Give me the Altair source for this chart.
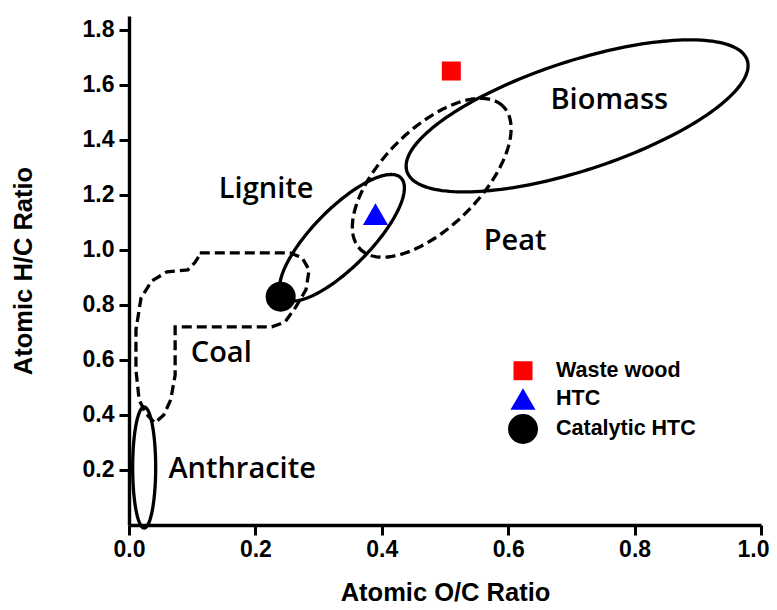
import altair as alt
import numpy as np
import pandas as pd

# --- Sample points (Atomic O/C, Atomic H/C) ---
series = ["Waste wood", "HTC", "Catalytic HTC"]
oc_ratio = [0.51, 0.39, 0.24]
hc_ratio = [1.65, 1.13, 0.83]
marker_shapes = ["square", "triangle-up", "circle"]
marker_colors = ["#ff0000", "#0000ff", "#000000"]
marker_sizes = [361, 900, 400]

# --- Elliptical regions: centre and two semi-axis vectors (data units) ---
region_names = ["Anthracite", "Lignite", "Peat", "Biomass"]
region_cx = [0.024, 0.337, 0.479, 0.709]
region_cy = [0.209, 1.044, 1.262, 1.487]
region_ax = [0.0, 0.0932, 0.1130, 0.2692]
region_ay = [0.220, 0.2178, 0.2597, 0.2022]
region_bx = [0.0182, -0.0327, -0.0548, -0.0268]
region_by = [0.0, 0.0739, 0.1260, 0.1884]
region_dashed = [False, False, True, False]

# --- Coal region outline (dashed) ---
coal_x = [0.112, 0.255, 0.274, 0.285, 0.280, 0.264, 0.247, 0.226, 0.073, 0.073,
          0.066, 0.055, 0.041, 0.027, 0.016, 0.011, 0.011, 0.019, 0.036, 0.060,
          0.093, 0.104, 0.112]
coal_y = [0.989, 0.989, 0.971, 0.927, 0.855, 0.793, 0.738, 0.720, 0.720, 0.545,
          0.455, 0.400, 0.371, 0.404, 0.455, 0.564, 0.709, 0.825, 0.887, 0.920,
          0.927, 0.953, 0.982]

# --- Region labels ---
label_text = ["Biomass", "Peat", "Lignite", "Coal", "Anthracite"]
label_x = [0.76, 0.611, 0.217, 0.146, 0.179]
label_y = [1.545, 1.033, 1.222, 0.625, 0.204]

x_ticks = [0.0, 0.2, 0.4, 0.6, 0.8, 1.0]
y_ticks = [0.2, 0.4, 0.6, 0.8, 1.0, 1.2, 1.4, 1.6, 1.8]

# Build outline tables
t = np.linspace(0, 2 * np.pi, 181)
rows = []
for i, name in enumerate(region_names):
    for k, tt in enumerate(t):
        rows.append({
            "region": name,
            "order": k,
            "dashed": region_dashed[i],
            "x": region_cx[i] + region_ax[i] * np.cos(tt) + region_bx[i] * np.sin(tt),
            "y": region_cy[i] + region_ay[i] * np.cos(tt) + region_by[i] * np.sin(tt),
        })
for k, (cx, cy) in enumerate(zip(coal_x, coal_y)):
    rows.append({"region": "Coal", "order": k, "dashed": True, "x": cx, "y": cy})
outlines = pd.DataFrame(rows)

points = pd.DataFrame({"series": series, "x": oc_ratio, "y": hc_ratio})
labels = pd.DataFrame({"text": label_text, "x": label_x, "y": label_y})

xscale = alt.Scale(domain=[0, 1.0], nice=False, zero=False)
yscale = alt.Scale(domain=[0, 1.85], nice=False, zero=False)

x_enc = alt.X("x:Q", scale=xscale,
              axis=alt.Axis(title="Atomic O/C Ratio", values=x_ticks, format=".1f",
                            labelOffset={"condition": {"test": "datum.value >= 0.99", "value": -8},
                                         "value": 0}))
y_enc = alt.Y("y:Q", scale=yscale,
              axis=alt.Axis(title="Atomic H/C Ratio", values=y_ticks, format=".1f"))

solid = alt.Chart(outlines).transform_filter("!datum.dashed").mark_line(
    color="black", strokeWidth=3.3, interpolate="linear", clip=False
).encode(x=x_enc, y=y_enc, detail="region:N", order="order:Q")

dashed = alt.Chart(outlines).transform_filter("datum.dashed").mark_line(
    color="black", strokeWidth=3.3, strokeDash=[10, 5], interpolate="linear", clip=False
).encode(x=x_enc, y=y_enc, detail="region:N", order="order:Q")

legend = alt.Legend(title=None)
pts = alt.Chart(points).mark_point(filled=True, opacity=1, strokeWidth=0).encode(
    x=x_enc, y=y_enc,
    shape=alt.Shape("series:N", scale=alt.Scale(domain=series, range=marker_shapes), legend=legend),
    color=alt.Color("series:N", scale=alt.Scale(domain=series, range=marker_colors), legend=legend),
    size=alt.Size("series:N", scale=alt.Scale(domain=series, range=marker_sizes), legend=legend),
)

txt = alt.Chart(labels).mark_text(
    font="Open Sans", fontWeight=600, fontSize=29, color="black"
).encode(x=x_enc, y=y_enc, text="text:N")

chart = alt.layer(solid, dashed, pts, txt).properties(
    width=632, height=509,
    autosize=alt.AutoSizeParams(type="none"),
    padding={"left": 121, "top": 8, "right": 8, "bottom": 84},
).configure_view(stroke=None).configure_axis(
    grid=False,
    domainColor="black", domainWidth=3.4,
    tickColor="black", tickWidth=3, tickSize=10,
    labelFont="Liberation Sans", labelFontWeight="bold", labelFontSize=23, labelColor="black",
    labelFlush=False,
    titleFont="Liberation Sans", titleFontWeight="bold", titleFontSize=25.5, titleColor="black",
    zindex=1,
).configure_axisX(titlePadding=19, labelPadding=3).configure_axisY(
    titlePadding=46, labelPadding=5
).configure_legend(
    orient="none", legendX=379, legendY=344,
    labelFont="Liberation Sans", labelFontWeight="bold", labelFontSize=21.5, labelColor="black",
    symbolStrokeWidth=0, rowPadding=4, labelOffset=18,
)

chart.save("out.html", embed_options={"renderer": "svg", "actions": False})
